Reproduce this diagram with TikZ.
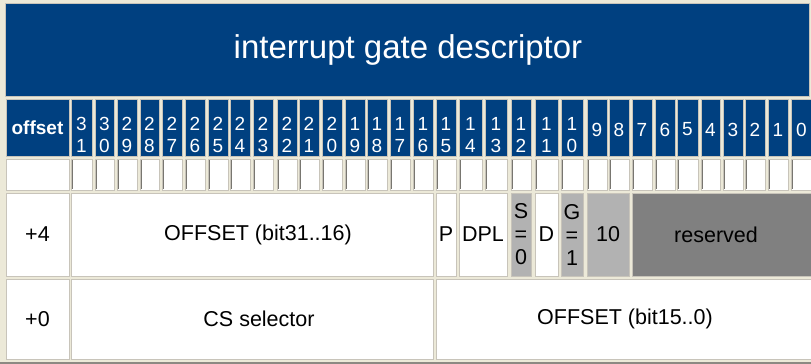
\documentclass[tikz,border=0pt]{standalone}
\usepackage{fontspec}
\setmainfont{Liberation Sans}
\definecolor{gateblue}{RGB}{0,64,128}
\definecolor{page}{RGB}{236,233,216}
\definecolor{edge}{RGB}{200,196,186}
\definecolor{fieldgray}{RGB}{178,178,178}
\definecolor{resgray}{RGB}{128,128,128}
\begin{document}
\begin{tikzpicture}[x=1pt,y=-1pt,
  cell/.style={draw=edge,line width=1pt,fill=white},
  head/.style={cell,fill=gateblue},
  lbl/.style={inner sep=0pt,align=center,font=\fontsize{21.5}{23}\selectfont},
  digit/.style={lbl,text=white,font=\fontsize{19}{21.3}\selectfont}]
\useasboundingbox (0,0) rectangle (811,364);
\fill[page] (0,0) rectangle (811,364);
\fill[edge!70!black] (0,362) rectangle (811,364);

\draw[head] (5,3) rectangle (809,96);
\node[lbl,text=white,font=\fontsize{33}{36}\selectfont] (title) at (408,50) {interrupt gate descriptor};

\draw[head] (6,99) rectangle (69,156);
\node[lbl,text=white,font=\fontsize{19}{22}\selectfont\bfseries] (offset) at (37.5,128) {offset};
\draw[cell] (6,159) rectangle (69,190);
\foreach \b/\l/\r in {31/71/92,30/95/114,29/117/137,28/140/159,27/162/182,26/185/205,
    25/208/228,24/230/250,23/253/273,22/277/297,21/299/319,20/322/342,19/345/365,
    18/367/387,17/390/410,16/413/433,15/436/456,14/459/482,13/485/507,12/511/531,
    11/535/558,10/561/583,9/587/607,8/609/629,7/632/652,6/655/675,5/677/698,
    4/701/720,3/723/743,2/745/765,1/768/788,0/791/812}{
  \draw[head] (\l,99) rectangle (\r,156);
  \draw[cell] (\l,159) rectangle (\r,190);
  \draw[edge!60!black,line width=1pt] (\l+1.5,160) -- (\l+1.5,189);
  \pgfmathtruncatemacro\tens{\b/10}
  \pgfmathtruncatemacro\ones{mod(\b,10)}
  \pgfmathsetmacro\yy{\b>9 ? 135 : 129.5}
  \node[digit] (bit\b) at ({(\l+\r)/2},\yy) {\ifnum\b>9 \tens\\\ones\else\b\fi};
}

\draw[cell] (6,193) rectangle (69,276);
\node[lbl] (plus4) at (37.5,234.5) {+4};
\draw[cell] (71,193) rectangle (433,276);
\node[lbl] (offhi) at (258,234.5) {OFFSET (bit31..16)};
\draw[cell] (436,193) rectangle (456,276);
\node[lbl] (pres) at (446,234.5) {P};
\draw[cell] (459,193) rectangle (507,276);
\node[lbl] (dpl) at (483,234.5) {DPL};
\draw[cell,fill=fieldgray] (511,193) rectangle (531,276);
\node[lbl] (sflag) at (521,234.5) {S\\=\\0};
\draw[cell] (535,193) rectangle (558,276);
\node[lbl] (dsize) at (546.5,234.5) {D};
\draw[cell,fill=fieldgray] (561,193) rectangle (583,276);
\node[lbl] (gflag) at (572,234.5) {G\\=\\1};
\draw[cell,fill=fieldgray] (587,193) rectangle (629,276);
\node[lbl] (gtype) at (608,234.5) {10};
\draw[cell,fill=resgray] (632,193) rectangle (812,276);
\node[lbl] (resv) at (716,234.5) {reserved};

\draw[cell] (6,279) rectangle (69,359);
\node[lbl] (plus0) at (37.5,319) {+0};
\draw[cell] (71,279) rectangle (433,359);
\node[lbl] (cssel) at (259,319) {CS selector};
\draw[cell] (436,279) rectangle (812,359);
\node[lbl] (offlo) at (625,319) {OFFSET (bit15..0)};
\end{tikzpicture}
\end{document}
